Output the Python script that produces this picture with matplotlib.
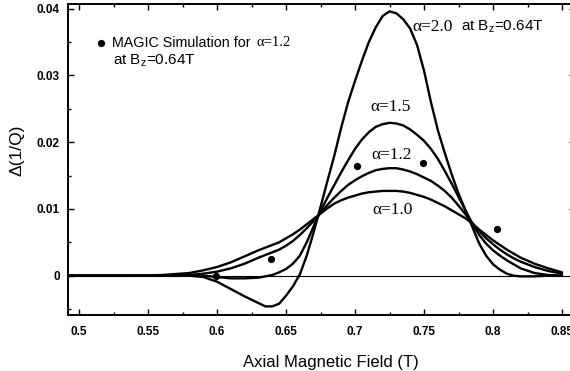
#
# Change of 1/Q versus axial magnetic field for several alpha values,
# with MAGIC simulation points for alpha=1.2.
#

import matplotlib
matplotlib.use("Agg")
import matplotlib.pyplot as plt
from matplotlib.ticker import MultipleLocator

# Axial magnetic field samples (T), shared by all curves
field = [0.49, 0.50, 0.52, 0.54, 0.56, 0.58,
         0.59, 0.60, 0.61, 0.62, 0.63,
         0.635, 0.64, 0.645, 0.65, 0.655, 0.66, 0.665, 0.67, 0.675, 0.68,
         0.685, 0.69, 0.695, 0.70, 0.705, 0.71, 0.715, 0.72, 0.725, 0.73,
         0.735, 0.74, 0.745, 0.75, 0.755, 0.76, 0.765, 0.77, 0.775, 0.78,
         0.785, 0.79, 0.795, 0.80, 0.805, 0.81, 0.815, 0.82,
         0.83, 0.84, 0.85]

dq_alpha20 = [0, 0, 0, 0, 0, 0,
              -0.0002, -0.0009, -0.0020, -0.0031, -0.0041,
              -0.0046, -0.0046, -0.0042, -0.0030, -0.0016, 0.0002, 0.0030, 0.0065, 0.0103, 0.0142,
              0.0180, 0.0222, 0.0260, 0.0292, 0.0322, 0.0350, 0.0372, 0.0389, 0.0396, 0.0393,
              0.0384, 0.0370, 0.0345, 0.0307, 0.0260, 0.0218, 0.0184, 0.0152, 0.0123, 0.0098,
              0.0073, 0.0048, 0.0030, 0.0017, 0.0009, 0.0003, 0.0000, -0.0001,
              -0.0001, 0.0000, 0.0000]

dq_alpha15 = [0, 0, 0, 0, 0, 0,
              0.0000, -0.0002, -0.0004, -0.0004, -0.0003,
              -0.0001, 0.0001, 0.0005, 0.0010, 0.0018, 0.0030, 0.0050, 0.0074, 0.0097, 0.0117,
              0.0136, 0.0155, 0.0173, 0.0190, 0.0204, 0.0215, 0.0223, 0.0227, 0.0229, 0.0228,
              0.0225, 0.0219, 0.0211, 0.0202, 0.0190, 0.0175, 0.0157, 0.0138, 0.0118, 0.0098,
              0.0078, 0.0061, 0.0048, 0.0038, 0.0030, 0.0023, 0.0017, 0.0011,
              0.0004, 0.0001, 0.0000]

dq_alpha12 = [0, 0, 0, 0, 0.0000, 0.0001,
              0.0003, 0.0006, 0.0011, 0.0018, 0.0027,
              0.0031, 0.0035, 0.0039, 0.0045, 0.0052, 0.0061, 0.0071, 0.0082, 0.0094, 0.0106,
              0.0117, 0.0127, 0.0136, 0.0143, 0.0149, 0.0154, 0.0158, 0.0160, 0.0161, 0.0161,
              0.0159, 0.0156, 0.0152, 0.0147, 0.0142, 0.0135, 0.0127, 0.0117, 0.0105, 0.0092,
              0.0079, 0.0067, 0.0056, 0.0047, 0.0039, 0.0032, 0.0026, 0.0021,
              0.0013, 0.0007, 0.0003]

dq_alpha10 = [0, 0, 0, 0.0000, 0.0001, 0.0004,
              0.0008, 0.0013, 0.0020, 0.0029, 0.0038,
              0.0042, 0.0046, 0.0050, 0.0056, 0.0062, 0.0069, 0.0077, 0.0085, 0.0093, 0.0101,
              0.0108, 0.0113, 0.0117, 0.0120, 0.0123, 0.0125, 0.0126, 0.0127, 0.0127, 0.0127,
              0.0126, 0.0124, 0.0121, 0.0118, 0.0114, 0.0109, 0.0104, 0.0098, 0.0092, 0.0086,
              0.0078, 0.0069, 0.0061, 0.0053, 0.0046, 0.0039, 0.0033, 0.0027,
              0.0018, 0.0011, 0.0005]

# MAGIC simulation points (alpha=1.2)
magic_field = [0.599, 0.639, 0.7015, 0.749, 0.803]
magic_dq = [0.0000, 0.0025, 0.0165, 0.0169, 0.0070]

x_ticks = [0.5, 0.55, 0.6, 0.65, 0.7, 0.75, 0.8, 0.85]
x_tick_labels = ["0.5", "0.55", "0.6", "0.65", "0.7", "0.75", "0.8", "0.85"]
y_ticks = [0, 0.01, 0.02, 0.03, 0.04]
y_tick_labels = ["0", "0.01", "0.02", "0.03", "0.04"]


def plot_dq_vs_field(output_file="out.png"):
    plt.rcParams['font.family'] = ['Liberation Sans', 'DejaVu Sans']
    plt.rcParams['mathtext.fontset'] = 'custom'
    plt.rcParams['mathtext.rm'] = 'Liberation Sans'
    plt.rcParams['mathtext.it'] = 'Liberation Sans'

    fig = plt.figure(figsize=(5.7, 3.71), dpi=100)
    # axes run slightly past the right edge, as in the cropped original
    ax = fig.add_axes([68 / 570, 56 / 371, 507 / 570, 311 / 371])

    curve_kw = dict(color='black', linewidth=1.7, solid_capstyle='round')
    ax.plot(field, dq_alpha10, **curve_kw)
    ax.plot(field, dq_alpha12, **curve_kw)
    ax.plot(field, dq_alpha15, **curve_kw)
    ax.plot(field, dq_alpha20, **curve_kw)

    ax.axhline(0, color='black', linewidth=0.8)

    ax.plot(magic_field, magic_dq, 'o', color='black', markersize=4.2)

    ax.set_xlim(0.492, 0.492 + 507 / 1380)
    ax.set_ylim(-0.00589, -0.00589 + 311 / 6675)

    ax.set_xticks(x_ticks)
    ax.set_xticklabels(x_tick_labels)
    ax.set_yticks(y_ticks)
    ax.set_yticklabels(y_tick_labels)
    ax.xaxis.set_minor_locator(MultipleLocator(0.025))
    ax.yaxis.set_minor_locator(MultipleLocator(0.005))
    ax.tick_params(which='both', direction='in', top=True, right=True,
                   width=1.0, labelsize=8.5)
    ax.tick_params(which='major', length=4)
    ax.tick_params(which='minor', length=2)
    ax.tick_params(axis='x', pad=8)
    ax.tick_params(axis='y', pad=6)
    for lbl in ax.get_xticklabels() + ax.get_yticklabels():
        lbl.set_fontweight('bold')
    for sp in ax.spines.values():
        sp.set_linewidth(1.4)

    # Axis labels
    fig.text(331 / 570, 1 - 362 / 371, "Axial Magnetic Field (T)",
             ha='center', va='center', fontsize=12)
    fig.text(17 / 570, 1 - 150 / 371, "\u0394(1/Q)", rotation=90,
             ha='center', va='center', fontsize=12.5)

    # Legend-style note in the upper left
    ax.plot([0.0651], [0.8746], 'o', color='black', markersize=4.2,
            transform=ax.transAxes, clip_on=False)
    note = ax.text(0.0868, 0.8746, "MAGIC Simulation for", transform=ax.transAxes,
                   ha='left', va='center', fontsize=10.3)
    ax.annotate("\u03b1=1.2", xy=(1, 0.5), xycoords=note, xytext=(4, 0),
                textcoords='offset points', ha='left', va='center',
                fontsize=10.5, family='Liberation Serif')
    ax.text(0.0888, 0.8167, "at B$_\\mathregular{z}$=0.64T", transform=ax.transAxes,
            ha='left', va='center', fontsize=11)

    # Curve labels
    serif = dict(family='Liberation Serif', fontsize=12.5, va='center')
    lab20 = ax.text(0.7413, 0.0373, "\u03b1=2.0", ha='left', **serif)
    ax.annotate("at B$_\\mathregular{z}$=0.64T", xy=(1, 0.5), xycoords=lab20,
                xytext=(6, 0), textcoords='offset points', ha='left',
                va='center', fontsize=11)
    ax.text(0.7254, 0.0253, "\u03b1=1.5", ha='center', **serif)
    ax.text(0.7268, 0.0181, "\u03b1=1.2", ha='center', **serif)
    ax.text(0.7275, 0.0098, "\u03b1=1.0", ha='center', **serif)

    plt.savefig(output_file, dpi=100)


if __name__ == "__main__":
    plot_dq_vs_field()
